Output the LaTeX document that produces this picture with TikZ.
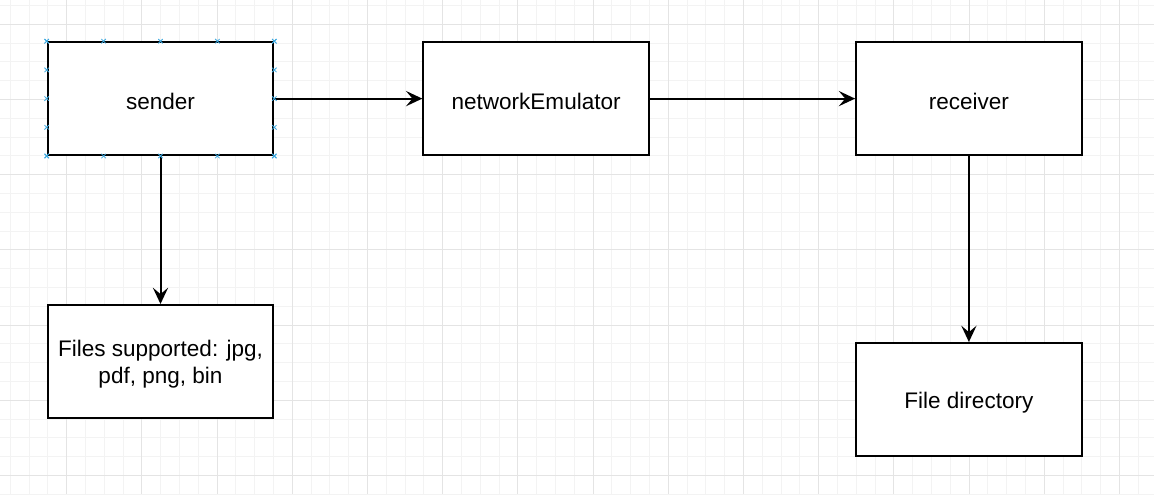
\documentclass[tikz,border=0pt]{standalone}
\usepackage{fontspec}
\setmainfont{Liberation Sans}
\usetikzlibrary{arrows.meta,calc}
\definecolor{gridmin}{HTML}{F3F3F3}
\definecolor{gridmaj}{HTML}{E4E4E4}
\definecolor{cpblue}{HTML}{3BA8E0}
\tikzset{
  gridminor/.style={draw=gridmin,line width=0.75pt},
  gridmajor/.style={draw=gridmaj,line width=0.75pt},
  box/.style={draw=black,fill=white,line width=1.5pt,rectangle,inner sep=0pt,
    minimum width=169.2pt,minimum height=84.6pt},
  boxtext/.style={inner sep=0pt,align=center,yshift=-2.2pt,
    font=\fontsize{16.9}{20.3}\selectfont},
  conn/.style={draw=black,line width=1.5pt,-{Stealth[length=12.2pt,width=11.4pt,inset=4.8pt]}},
  cpmark/.style={draw=cpblue,line width=0.6pt}
}
\begin{document}
\begin{tikzpicture}[x=0.75pt,y=-0.75pt]
\useasboundingbox (0,0) rectangle (1154,494);
\fill[white] (0,0) rectangle (1154,494);
% grid
\foreach \k in {-4,...,58} {\draw[gridminor] ({66.7+18.8*\k},0) -- ({66.7+18.8*\k},494);}
\foreach \k in {-2,...,25} {\draw[gridminor] (0,{24.3+18.8*\k}) -- (1154,{24.3+18.8*\k});}
\foreach \k in {-1,...,14} {\draw[gridmajor] ({66.7+75.2*\k},0) -- ({66.7+75.2*\k},494);}
\foreach \k in {0,...,6} {\draw[gridmajor] (0,{24.3+75.2*\k}) -- (1154,{24.3+75.2*\k});}
% boxes
\node[box] (sender) at (160.5,98.6) {};
\node[box] (emu) at (536.1,98.6) {};
\node[box] (recv) at (968.9,98.6) {};
\node[box] (files) at (160.5,361.4) {};
\node[box] (dir) at (968.9,399.4) {};
% texts
\node[boxtext] (sendert) at (sender.center) {sender};
\node[boxtext] (emut) at (emu.center) {networkEmulator};
\node[boxtext] (recvt) at (recv.center) {receiver};
\node[boxtext] (filest) at (files.center) {Files supported: jpg,\\pdf, png, bin};
\node[boxtext] (dirt) at (dir.center) {File directory};
% connectors
\draw[conn] (sender.east) -- (emu.west);
\draw[conn] (emu.east) -- (recv.west);
\draw[conn] (sender.south) -- (files.north);
\draw[conn] (recv.south) -- (dir.north);
% connection point marks on sender
\foreach \t in {0,0.25,0.5,0.75,1} {
  \foreach \a/\b in {north west/north east, south west/south east, north west/south west, north east/south east} {
    \coordinate (p) at ($(sender.\a)!\t!(sender.\b)$);
    \draw[cpmark] ($(p)+(-2.2,-2.2)$) -- ($(p)+(2.2,2.2)$) ($(p)+(-2.2,2.2)$) -- ($(p)+(2.2,-2.2)$);
  }
}
\end{tikzpicture}
\end{document}
